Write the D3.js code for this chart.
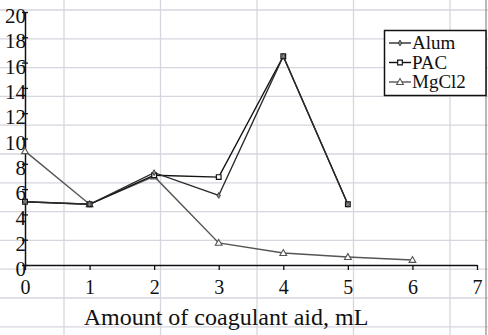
<!DOCTYPE html>
<html>
<head>
<meta charset="utf-8">
<script src="https://cdn.jsdelivr.net/npm/d3@7"></script>
<style>
  html, body { margin: 0; padding: 0; background: #fff; }
  svg { display: block; }
  text { font-family: "Liberation Serif", "Times New Roman", "DejaVu Serif", serif; fill: #111; }
</style>
</head>
<body>
<svg id="chart" width="488" height="335"></svg>
<script>
// Coagulant aid dose (mL) and measured values per coagulant
const doses = [0, 1, 2, 3, 4, 5, 6];
const alum  = [5.0, 4.8, 7.3, 5.5, 16.5, 4.8];
const pac   = [5.0, 4.8, 7.1, 6.95, 16.5, 4.8];
const mgcl2 = [9.0, 4.8, 7.0, 1.75, 0.95, 0.63, 0.4];

const seriesNames = ["Alum", "PAC", "MgCl2"];
const xTicks = [0, 1, 2, 3, 4, 5, 6, 7];
const yTicks = [0, 2, 4, 6, 8, 10, 12, 14, 16, 18, 20];
const xTitle = "Amount of coagulant aid, mL";

const W = 488, H = 335;
const serif = "'Liberation Serif', 'Times New Roman', serif";
const svg = d3.select("#chart");

// sheet cell grid behind the chart
const bg = svg.append("g");
d3.range(64, W, 96.5).forEach(gx =>
  bg.append("line").attr("x1", gx).attr("x2", gx).attr("y1", 0).attr("y2", H)
    .attr("stroke", "#d6d6de").attr("stroke-width", 1.3));
d3.range(10, H, 28.8).forEach(gy =>
  bg.append("line").attr("x1", 0).attr("x2", W).attr("y1", gy).attr("y2", gy)
    .attr("stroke", "#d6d6de").attr("stroke-width", 1.3));
// right edge of chart frame
bg.append("line").attr("x1", 486).attr("x2", 486).attr("y1", 0).attr("y2", H)
  .attr("stroke", "#8a8a8a").attr("stroke-width", 1.2);

const x = d3.scaleLinear().domain([0, 7]).range([25, 477]);
const y = d3.scaleLinear().domain([0, 20]).range([265, 12]);

// x axis
const gx = svg.append("g").attr("transform", `translate(0,${y(0)})`)
  .call(d3.axisBottom(x).tickValues(xTicks).tickFormat(d3.format("d"))
    .tickSizeInner(5).tickSizeOuter(0).tickPadding(10));
gx.select(".domain").attr("stroke", "#111").attr("stroke-width", 1.5);
gx.selectAll(".tick line").attr("stroke", "#111").attr("stroke-width", 1.3);
gx.selectAll(".tick text").attr("font-size", 20).attr("fill", "#222")
  .style("font-family", serif);

// y axis
const gy = svg.append("g").attr("transform", `translate(${x(0)},0)`)
  .call(d3.axisLeft(y).tickValues(yTicks).tickFormat(d3.format("d"))
    .tickSizeInner(3).tickSizeOuter(0).tickPadding(0));
gy.select(".domain").attr("stroke", "#111").attr("stroke-width", 1.5);
gy.selectAll(".tick line").attr("x1", 3).attr("x2", -3)
  .attr("stroke", "#111").attr("stroke-width", 1.3);
gy.selectAll(".tick text").attr("font-size", 21).attr("fill", "#222")
  .attr("x", 1).attr("dy", "0.5em")
  .style("font-family", serif);

// x axis title
svg.append("text").attr("x", 226).attr("y", 325).attr("text-anchor", "middle")
  .attr("font-size", 24).style("font-family", serif).text(xTitle);

const series = [
  { name: seriesNames[0], values: alum,  color: "#2a2a2a", marker: "diamond" },
  { name: seriesNames[1], values: pac,   color: "#111111", marker: "square" },
  { name: seriesNames[2], values: mgcl2, color: "#555555", marker: "triangle" }
];

const line = d3.line().x((d, i) => x(doses[i])).y(d => y(d));

function drawMarker(g, type, cx, cy, color) {
  if (type === "diamond") {
    g.append("path").attr("d", d3.symbol(d3.symbolDiamond, 10)())
      .attr("transform", `translate(${cx},${cy})`)
      .attr("fill", "#888").attr("stroke", color).attr("stroke-width", 0.8);
  } else if (type === "square") {
    g.append("path").attr("d", d3.symbol(d3.symbolSquare, 22)())
      .attr("transform", `translate(${cx},${cy})`)
      .attr("fill", "#fff").attr("stroke", color).attr("stroke-width", 1.2);
  } else {
    g.append("path").attr("d", d3.symbol(d3.symbolTriangle, 20)())
      .attr("transform", `translate(${cx},${cy + 0.5})`)
      .attr("fill", "#fff").attr("stroke", color).attr("stroke-width", 1.1);
  }
}

const plot = svg.append("g");
series.slice().reverse().forEach(s => {
  plot.append("path").datum(s.values).attr("d", line)
    .attr("fill", "none").attr("stroke", s.color).attr("stroke-width", 1.4);
});
series.slice().reverse().forEach(s => {
  s.values.forEach((v, i) => drawMarker(plot, s.marker, x(doses[i]), y(v), s.color));
});

// legend
const lg = svg.append("g");
lg.append("rect").attr("x", 384.5).attr("y", 30.5).attr("width", 101.5).attr("height", 65)
  .attr("fill", "#fff").attr("stroke", "#111").attr("stroke-width", 1.5);
series.forEach((s, i) => {
  const ly = 43 + i * 19.5;
  lg.append("line").attr("x1", 389).attr("x2", 411).attr("y1", ly).attr("y2", ly)
    .attr("stroke", s.color).attr("stroke-width", 1.4);
  drawMarker(lg, s.marker, 400, ly, s.color);
  lg.append("text").attr("x", 412).attr("y", ly + 6).attr("font-size", 19)
    .style("font-family", serif).text(s.name);
});
</script>
</body>
</html>
